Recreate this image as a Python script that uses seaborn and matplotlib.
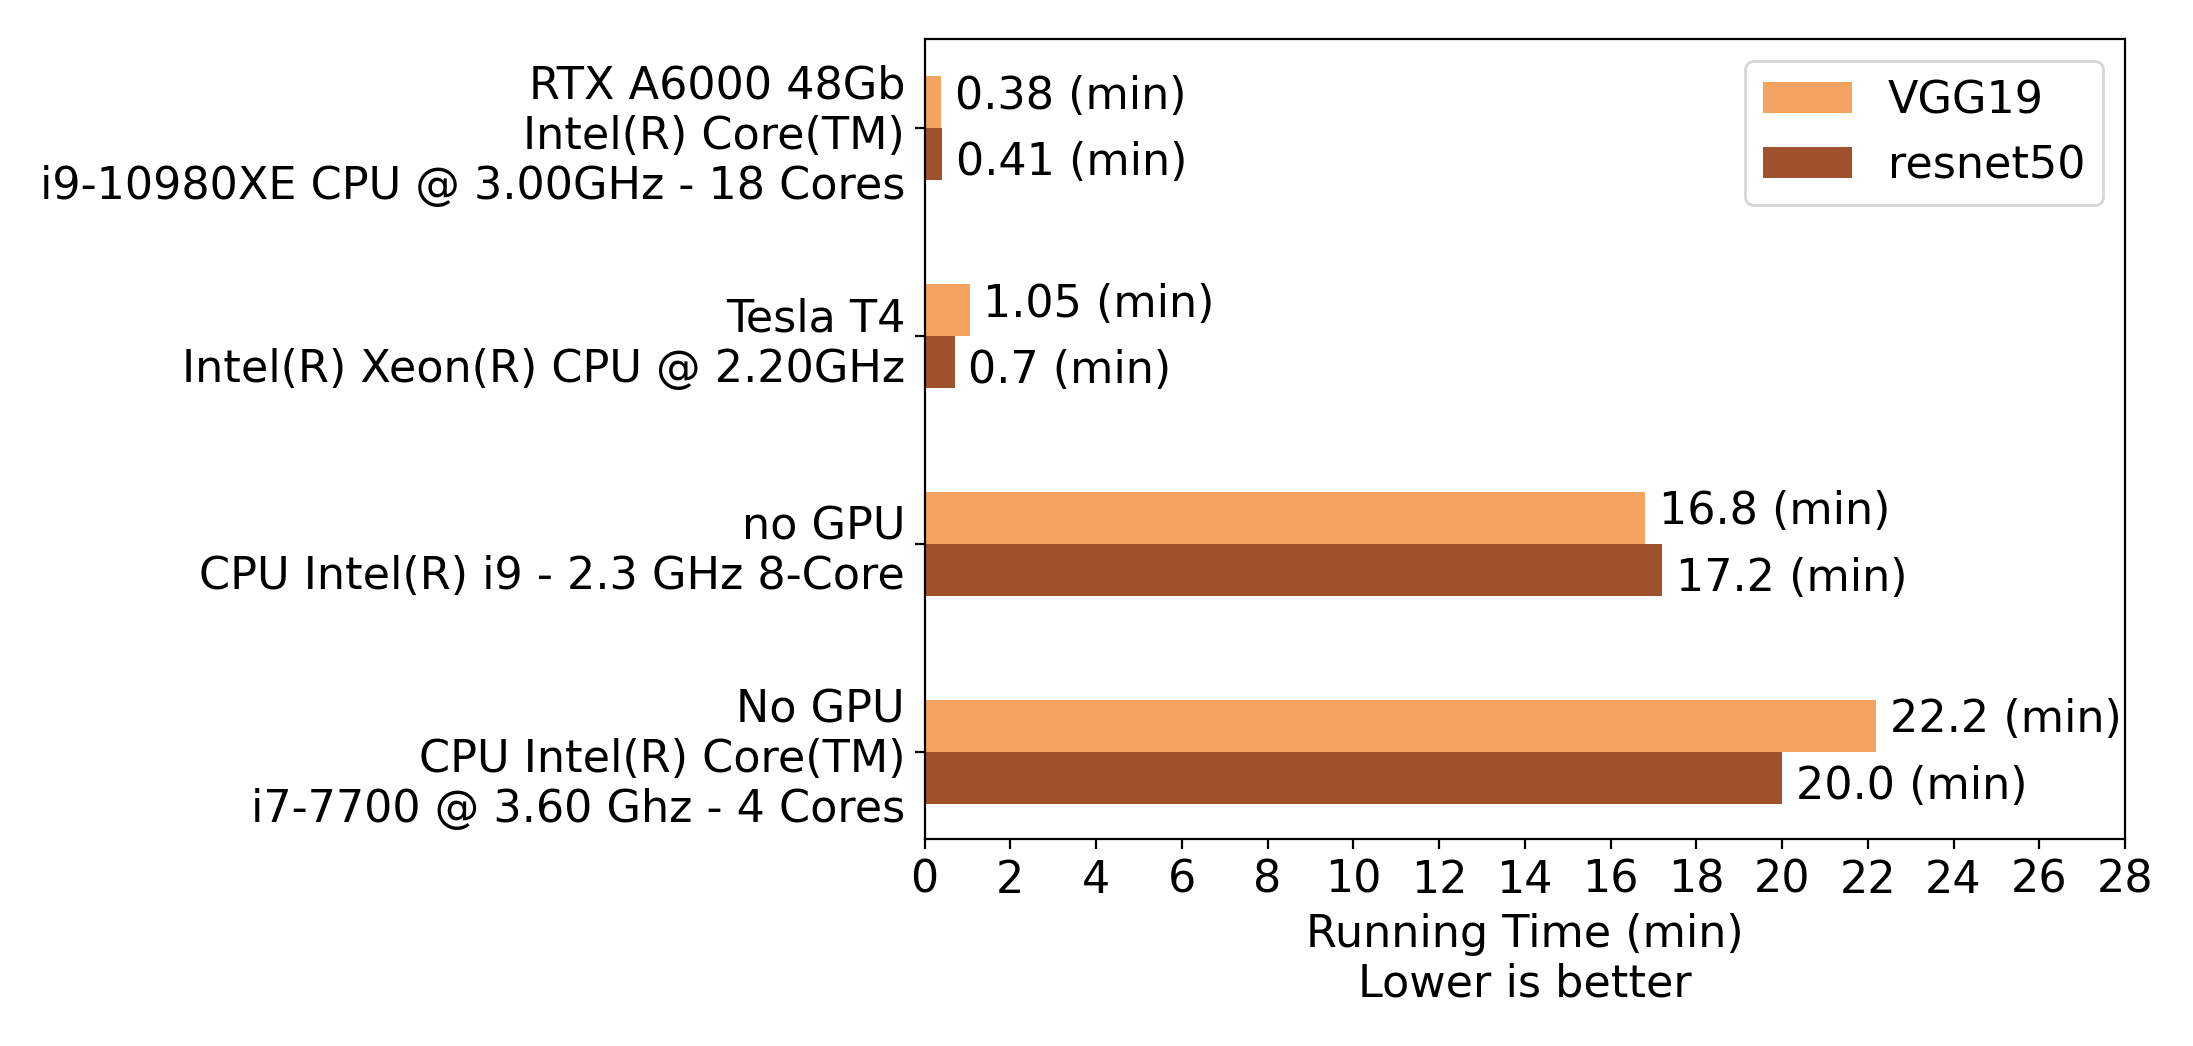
import pandas as pd
import seaborn as sns
import matplotlib.pyplot as plt

# Running time per machine and model
machines = [
    'RTX A6000 48Gb\nIntel(R) Core(TM)\ni9-10980XE CPU @ 3.00GHz - 18 Cores',
    'Tesla T4\nIntel(R) Xeon(R) CPU @ 2.20GHz',
    'no GPU\nCPU Intel(R) i9 - 2.3 GHz 8-Core',
    'No GPU\nCPU Intel(R) Core(TM)\ni7-7700 @ 3.60 Ghz - 4 Cores',
]
models = ['VGG19', 'resnet50']
vgg19 = [0.38, 1.05, 16.8, 22.2]
resnet50 = [0.41, 0.7, 17.2, 20.0]
colors = ['#F4A460', '#A0522D']

data = pd.DataFrame({
    'machine': machines * 2,
    'model': [models[0]] * 4 + [models[1]] * 4,
    'time': vgg19 + resnet50,
})

plt.rcParams['font.size'] = 16
fig, ax = plt.subplots(figsize=(10.965, 5.23), dpi=200)
sns.barplot(data=data, x='time', y='machine', hue='model', orient='h',
            palette=colors, width=0.5, errorbar=None, saturation=1, ax=ax)

# value labels, nudged a bit away from the category centre
for i, (v1, v2) in enumerate(zip(vgg19, resnet50)):
    ax.annotate(f'{v1} (min)', xy=(v1, i - 0.155), xytext=(5, 0),
                textcoords='offset points', va='center', fontsize=16)
    ax.annotate(f'{v2} (min)', xy=(v2, i + 0.165), xytext=(5, 0),
                textcoords='offset points', va='center', fontsize=16)

ax.set_xlim(0, 28)
ax.set_xticks(range(0, 29, 2))
ax.set_ylim(3.42, -0.43)
ax.set_xlabel('Running Time (min)\nLower is better', fontsize=16)
ax.set_ylabel('')
ax.tick_params(labelsize=16)
sns.move_legend(ax, 'upper right', title=None, fontsize=16, frameon=True)

fig.subplots_adjust(left=0.4216, right=0.969, top=0.9627, bottom=0.1976)
fig.savefig('out.png', dpi=200)
